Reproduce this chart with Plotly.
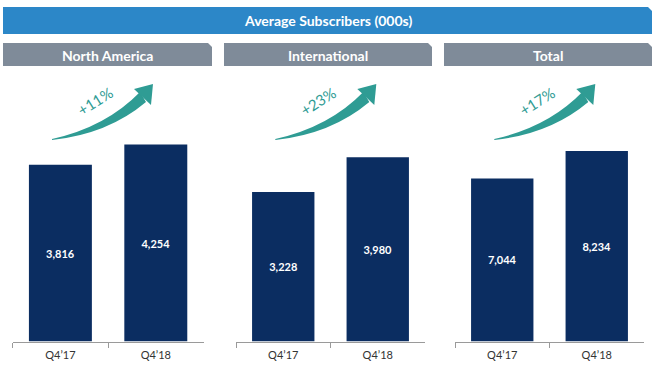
import plotly.graph_objects as go

W, H = 655, 369

# ---- data ----
categories = ["Q4\u201917", "Q4\u201918"]
north_america = [3816, 4254]
international = [3228, 3980]
total = [7044, 8234]
panel_titles = ["North America", "International", "Total"]
growth_labels = ["+11%", "+23%", "+17%"]
main_title = "Average Subscribers (000s)"

NAVY = "#0b2d61"
BLUE = "#2c87c8"
GREY = "#7f8b99"
TEAL = "#2f9c94"
FONT = "Lato"


def px(x, y):
    return x / W, 1 - y / H


def path(points, closed=True):
    s = ""
    for i, p in enumerate(points):
        x, y = px(*p)
        s += ("M" if i == 0 else "L") + f"{x:.5f},{y:.5f} "
    return s + ("Z" if closed else "")


def qpath(segs):
    s = ""
    for cmd, pts in segs:
        s += cmd
        s += " ".join(f"{px(*p)[0]:.5f},{px(*p)[1]:.5f}" for p in pts) + " "
    return s + "Z"


x_domains = [(12.7, 203.5), (236, 425), (455, 644)]
y_bottom, y_top = 341.5, 80
yranges = [5648, 5648, 11296]
series = [north_america, international, total]

fig = go.Figure()
for i, (vals, dom) in enumerate(zip(series, x_domains)):
    sfx = "" if i == 0 else str(i + 1)
    fig.add_trace(go.Bar(
        x=categories, y=vals, xaxis="x" + sfx, yaxis="y" + sfx,
        marker=dict(color=NAVY, line=dict(width=0)),
        texttemplate="%{y:,}", textposition="inside", insidetextanchor="middle",
        textangle=0,
        textfont=dict(color="white", size=11, family=FONT, weight="bold"),
        hoverinfo="skip", showlegend=False,
    ))
    fig.layout["xaxis" + sfx] = dict(
        domain=[dom[0] / W, dom[1] / W], anchor="y" + sfx,
        showline=True, linecolor="#9a9a9a", linewidth=1,
        ticks="outside", tickson="boundaries", ticklen=5, tickcolor="#9a9a9a",
        ticklabelstandoff=3,
        tickfont=dict(size=11, color="#333333", family=FONT),
        showgrid=False, zeroline=False, fixedrange=True,
    )
    fig.layout["yaxis" + sfx] = dict(
        domain=[1 - y_bottom / H, 1 - y_top / H], anchor="x" + sfx,
        range=[0, yranges[i]], visible=False, fixedrange=True,
    )

shapes = []
annotations = []


def label(x, y, text, **font):
    ax, ay = px(x, y)
    return dict(x=ax, y=ay, xref="paper", yref="paper", text=text, showarrow=False,
                xanchor="center", yanchor="middle", font=font)


# main title bar
shapes.append(dict(type="path", xref="paper", yref="paper",
                   path=path([(3, 7), (648, 7), (652, 11), (652, 34), (3, 34)]),
                   fillcolor=BLUE, line=dict(width=0)))
annotations.append(label(327.5, 21, main_title, color="white", size=14, family=FONT, weight="bold"))

# panel headers
hdr = [(3, 212), (224, 432), (444, 652)]
for (x0, x1), t in zip(hdr, panel_titles):
    shapes.append(dict(type="path", xref="paper", yref="paper",
                       path=path([(x0, 43), (x1 - 4, 43), (x1, 47), (x1, 66), (x0, 66)]),
                       fillcolor=GREY, line=dict(width=0)))
    annotations.append(label((x0 + x1) / 2, 55, t, color="white", size=14, family=FONT, weight="bold"))

# growth arrows
for dom, g in zip(x_domains, growth_labels):
    o = dom[0] - 12.7

    def P(x, y):
        return (x + o, y)
    body = qpath([
        ("M", [P(52, 139)]),
        ("Q", [P(106, 127), P(140, 92)]),
        ("L", [P(146, 102)]),
        ("Q", [P(108, 134), P(52, 140)]),
    ])
    shapes.append(dict(type="path", xref="paper", yref="paper", path=body,
                       fillcolor=TEAL, line=dict(width=0)))
    shapes.append(dict(type="path", xref="paper", yref="paper",
                       path=path([P(134, 89), P(153, 84), P(151, 105)]),
                       fillcolor=TEAL, line=dict(width=0)))
    a = label(*P(95, 101), g, color=TEAL, size=15, family=FONT)
    a["textangle"] = -32
    annotations.append(a)

fig.update_layout(
    width=W, height=H, margin=dict(l=0, r=0, t=0, b=0),
    paper_bgcolor="white", plot_bgcolor="white",
    bargap=0.34, shapes=shapes, annotations=annotations,
    font=dict(family=FONT),
)
fig.write_html("out.html", config={"displayModeBar": False},
               post_script="document.body.style.margin='0';document.body.style.overflow='hidden';")
